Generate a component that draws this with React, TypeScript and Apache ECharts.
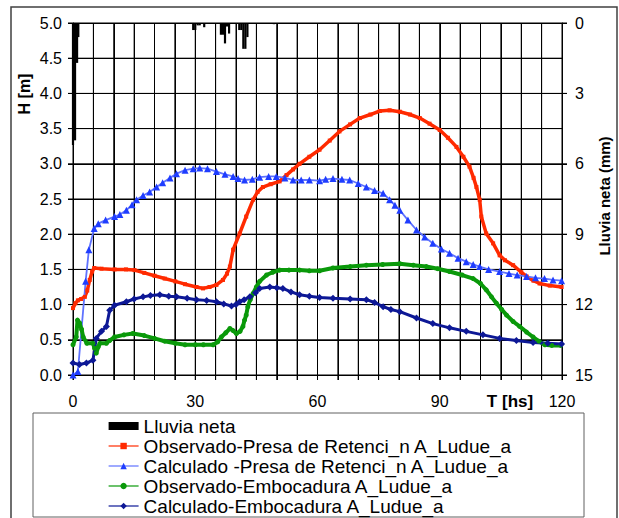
import React, { useEffect, useRef } from "react";
import * as echarts from "echarts";

const FONT = "'Liberation Sans', Arial, sans-serif";

const xTicks = [0, 30, 60, 90, 120];
const xGrid = [0, 5, 10, 15, 20, 25, 30, 35, 40, 45, 50, 55, 60, 65, 70, 75, 80, 85, 90, 95, 100, 105, 110, 115, 120];
const yGrid = [0, 0.5, 1, 1.5, 2, 2.5, 3, 3.5, 4, 4.5, 5];
const rainTicks = [0, 3, 6, 9, 12, 15];
const rainNames = "Lluvia neta";
const seriesNames = [
  "Observado-Presa de Retenci_n A_Ludue_a",
  "Calculado -Presa de Retenci_n A_Ludue_a",
  "Observado-Embocadura A_Ludue_a",
  "Calculado-Embocadura A_Ludue_a",
];

// [T hs, mm]
const rain: [number, number][] = [
  [0.0, 5.2], [0.5, 5.0], [1.0, 1.7], [1.3, 0.6],
  [29.5, 0.3], [30.0, 0.3], [30.6, 0.1], [31.1, 0.1], [32.2, 0.18],
  [36.3, 0.5], [36.8, 0.5], [37.3, 0.87], [37.8, 0.15], [38.3, 0.45],
  [40.8, 0.3], [41.3, 0.3], [41.8, 1.1], [42.3, 1.1], [42.8, 0.6],
  [49.3, 0.05],
];

// [T hs, H m]
const obsPresa: [number, number][] = [
  [0, 0.95], [0.6, 1.02], [1.2, 1.06], [2, 1.08], [2.9, 1.11], [3.5, 1.2], [4.1, 1.35], [4.7, 1.47],
  [5.2, 1.52], [7, 1.51], [10.2, 1.5], [13, 1.5], [15.1, 1.49], [17.5, 1.45], [20, 1.41], [22.5, 1.37],
  [25.1, 1.33], [27.5, 1.29], [30.3, 1.25], [31.9, 1.23], [33.5, 1.25], [35.2, 1.28], [36.8, 1.35],
  [37.8, 1.44], [38.5, 1.54], [39.3, 1.78], [40.9, 2.01], [42.5, 2.25], [44.2, 2.49], [45.3, 2.6],
  [46.6, 2.67], [48.5, 2.71], [50.7, 2.75], [52.4, 2.84], [54, 2.92], [55.6, 3.0], [58, 3.1],
  [60.5, 3.2], [63, 3.33], [65.4, 3.46], [68, 3.56], [70.4, 3.65], [73, 3.7], [75.3, 3.75],
  [77.7, 3.76], [80.2, 3.74], [82.7, 3.7], [85.1, 3.65], [87.5, 3.57], [90, 3.48], [92, 3.37],
  [94.1, 3.24], [95.8, 3.1], [97.3, 2.96], [98.3, 2.8], [99, 2.67], [99.8, 2.49], [100.2, 2.25],
  [101.4, 2.01], [103.1, 1.87], [104.7, 1.7], [106, 1.63], [108, 1.56], [110, 1.46], [111.3, 1.4],
  [113, 1.34], [114.5, 1.3], [117, 1.27], [119.9, 1.25],
];

const calcPresa: [number, number][] = [
  [0, 0], [1.2, 0.05], [3.1, 1.33], [3.9, 1.78], [5.2, 2.08], [6.2, 2.15], [8, 2.2], [10.2, 2.25],
  [11.5, 2.28], [13.1, 2.34], [14.5, 2.42], [15.6, 2.49], [17.2, 2.55], [18.8, 2.6], [20.5, 2.67],
  [22, 2.73], [23.8, 2.8], [25.4, 2.86], [27.5, 2.91], [29.5, 2.93], [31.1, 2.94], [33, 2.93],
  [35.2, 2.89], [37.3, 2.85], [39.3, 2.82], [40.5, 2.79], [42.1, 2.77], [44, 2.78], [45.8, 2.81],
  [48, 2.82], [49.9, 2.82], [52, 2.8], [54, 2.77], [56, 2.77], [58, 2.77], [60.5, 2.76], [62, 2.78],
  [63.8, 2.79], [66, 2.78], [67.9, 2.77], [70, 2.72], [72, 2.67], [74, 2.62], [76.1, 2.58],
  [77.7, 2.49], [79, 2.41], [80.2, 2.34], [82.2, 2.2], [84.3, 2.06], [86.3, 1.96], [88.3, 1.87],
  [90.4, 1.79], [92.4, 1.73], [94.5, 1.66], [96.5, 1.61], [98.2, 1.57], [99.8, 1.54], [102, 1.5],
  [104.7, 1.47], [107, 1.44], [109, 1.42], [111.3, 1.4], [113.5, 1.38], [115.7, 1.37], [117.8, 1.35],
  [119.9, 1.34],
];

const obsEmb: [number, number][] = [
  [0, 0.43], [0.8, 0.54], [1.1, 0.78], [1.6, 0.74], [2.1, 0.65], [2.5, 0.54], [3.4, 0.45], [4.9, 0.45],
  [5.3, 0.38], [5.7, 0.31], [6.2, 0.4], [6.6, 0.45], [8.2, 0.45], [9, 0.49], [10.2, 0.54], [12.5, 0.57],
  [14.7, 0.59], [17.5, 0.56], [20, 0.52], [22.5, 0.48], [25.1, 0.45], [27.5, 0.43], [30, 0.43],
  [32, 0.43], [34.4, 0.43], [35.5, 0.47], [36.4, 0.54], [37.5, 0.6], [38.5, 0.66], [39.3, 0.63],
  [40.1, 0.59], [41, 0.62], [41.7, 0.69], [42.1, 0.78], [42.5, 0.85], [42.9, 0.97], [43.5, 1.07],
  [44.2, 1.16], [45, 1.25], [45.8, 1.33], [47.5, 1.42], [49, 1.46], [50.7, 1.49], [53, 1.49],
  [55.6, 1.49], [58, 1.48], [60.5, 1.48], [63.8, 1.52], [68, 1.54], [72, 1.56], [76, 1.57],
  [80.2, 1.58], [83.5, 1.56], [86.7, 1.54], [89.5, 1.51], [92.4, 1.47], [95.5, 1.42], [98.2, 1.37],
  [100, 1.3], [101.4, 1.21], [102.7, 1.11], [103.9, 1.02], [105.2, 0.93], [106.4, 0.85], [108, 0.76],
  [109.6, 0.69], [111.3, 0.61], [112.9, 0.54], [114.3, 0.48], [115.8, 0.43], [117.5, 0.42],
  [119.7, 0.42],
];

const calcEmb: [number, number][] = [
  [0, 0.17], [1.6, 0.15], [3.3, 0.17], [4.9, 0.21], [5.7, 0.52], [7, 0.62], [8.2, 0.69], [9, 0.92],
  [10.2, 0.99], [13.1, 1.04], [15, 1.08], [17.2, 1.11], [19, 1.13], [21.3, 1.14], [23.5, 1.12],
  [25.4, 1.11], [28, 1.09], [30.3, 1.07], [32.8, 1.06], [35.2, 1.04], [37, 1.01], [38.9, 0.98],
  [40, 1.0], [40.9, 1.04], [42, 1.07], [43.4, 1.11], [44.8, 1.17], [45.8, 1.23], [48.3, 1.25],
  [50, 1.24], [51.5, 1.23], [53.5, 1.18], [55.6, 1.14], [58, 1.12], [60.5, 1.1], [63.8, 1.09],
  [68, 1.08], [72, 1.07], [74, 1.03], [76.1, 0.97], [78, 0.93], [80.2, 0.9], [84.3, 0.81],
  [88.3, 0.73], [92.4, 0.67], [96.5, 0.62], [100.6, 0.57], [104.7, 0.52], [108.8, 0.49],
  [112.9, 0.46], [116.5, 0.45], [119.9, 0.44],
];

const TICK = 5;

export default function App() {
  const ref = useRef<HTMLDivElement>(null);
  useEffect(() => {
    document.body.style.margin = "0";
    const chart = echarts.init(ref.current!, null, { renderer: "svg" });
    const axisLabelStyle = { color: "#000", fontSize: 16, fontFamily: FONT };
    const gridStyle = { stroke: "#000", lineWidth: 1, fill: null };
    chart.setOption({
      animation: false,
      textStyle: { fontFamily: FONT },
      grid: { left: 73, right: 57, top: 23, bottom: 143 },
      legend: {
        orient: "vertical",
        left: 108,
        top: 416,
        padding: 0,
        itemWidth: 30,
        itemHeight: 8,
        itemGap: 0,
        lineStyle: { width: 1.2 },
        textStyle: { color: "#000", fontSize: 19, lineHeight: 20, fontFamily: FONT },
        data: [
          { name: rainNames, icon: "rect" },
          ...seriesNames.map((n) => ({ name: n })),
        ],
      },
      xAxis: {
        type: "value",
        min: 0,
        max: 120,
        interval: 5,
        axisLine: { show: true, lineStyle: { color: "#000", width: 1 } },
        axisTick: { show: true, length: TICK, lineStyle: { color: "#000" } },
        axisLabel: {
          ...axisLabelStyle,
          margin: 18,
          formatter: (v: number) => (xTicks.includes(v) ? String(v) : ""),
        },
        splitLine: { show: true, lineStyle: { color: "#000", width: 1 } },
      },
      yAxis: [
        {
          type: "value",
          min: 0,
          max: 5,
          interval: 0.5,
          axisLine: { show: true, lineStyle: { color: "#000", width: 1 } },
          axisTick: { show: true, length: TICK, lineStyle: { color: "#000" } },
          axisLabel: { ...axisLabelStyle, margin: 11, formatter: (v: number) => v.toFixed(1) },
          splitLine: { show: true, lineStyle: { color: "#000", width: 1 } },
        },
        {
          type: "value",
          position: "right",
          inverse: true,
          min: 0,
          max: 15,
          interval: 3,
          axisLine: { show: true, lineStyle: { color: "#000", width: 1 } },
          axisTick: { show: true, length: TICK, lineStyle: { color: "#000" } },
          axisLabel: { ...axisLabelStyle, margin: 13 },
          splitLine: { show: false },
        },
      ],
      series: [
        {
          name: "__vgrid",
          type: "custom",
          xAxisIndex: 0,
          yAxisIndex: 0,
          z: 1,
          silent: true,
          clip: false,
          encode: { x: 0, y: 1 },
          data: xGrid.map((v) => [v, 0]),
          renderItem: (_p: any, api: any) => {
            const v = api.value(0);
            const a = api.coord([v, 5]);
            const b = api.coord([v, 0]);
            return {
              type: "line",
              shape: { x1: a[0], y1: a[1], x2: b[0], y2: b[1] + TICK },
              style: gridStyle,
            };
          },
        },
        {
          name: "__hgrid",
          type: "custom",
          xAxisIndex: 0,
          yAxisIndex: 0,
          z: 1,
          silent: true,
          clip: false,
          encode: { x: 0, y: 1 },
          data: yGrid.map((v) => [0, v]),
          renderItem: (_p: any, api: any) => {
            const v = api.value(1);
            const a = api.coord([0, v]);
            const b = api.coord([120, v]);
            return {
              type: "line",
              shape: { x1: a[0] - TICK, y1: a[1], x2: b[0], y2: b[1] },
              style: gridStyle,
            };
          },
        },
        {
          name: "__rticks",
          type: "custom",
          xAxisIndex: 0,
          yAxisIndex: 1,
          z: 1,
          silent: true,
          clip: false,
          encode: { x: 0, y: 1 },
          data: rainTicks.map((v) => [120, v]),
          renderItem: (_p: any, api: any) => {
            const p = api.coord([120, api.value(1)]);
            return {
              type: "line",
              shape: { x1: p[0], y1: p[1], x2: p[0] + TICK, y2: p[1] },
              style: gridStyle,
            };
          },
        },
        {
          name: rainNames,
          type: "bar",
          xAxisIndex: 0,
          yAxisIndex: 1,
          barWidth: 2.2,
          itemStyle: { color: "#000" },
          data: rain,
        },
        {
          name: seriesNames[0],
          type: "line",
          yAxisIndex: 0,
          data: obsPresa,
          symbol: "rect",
          symbolSize: 4,
          showSymbol: true,
          lineStyle: { color: "#ff2a00", width: 3.5 },
          itemStyle: { color: "#ff2a00" },
        },
        {
          name: seriesNames[1],
          type: "line",
          yAxisIndex: 0,
          data: calcPresa,
          symbol: "triangle",
          symbolSize: 7,
          lineStyle: { color: "#5f72ff", width: 1.8 },
          itemStyle: { color: "#1f3dff" },
        },
        {
          name: seriesNames[2],
          type: "line",
          yAxisIndex: 0,
          data: obsEmb,
          symbol: "circle",
          symbolSize: 5,
          lineStyle: { color: "#0a990a", width: 4 },
          itemStyle: { color: "#0a990a" },
        },
        {
          name: seriesNames[3],
          type: "line",
          yAxisIndex: 0,
          data: calcEmb,
          symbol: "diamond",
          symbolSize: 7,
          lineStyle: { color: "#0d1896", width: 3 },
          itemStyle: { color: "#0d1896" },
        },
      ],
      graphic: [
        {
          type: "rect",
          silent: true,
          shape: { x: 11, y: 7, width: 606, height: 530 },
          style: { fill: "transparent", stroke: "#404040", lineWidth: 1.5 },
        },
        {
          type: "rect",
          silent: true,
          shape: { x: 33, y: 413, width: 551, height: 104 },
          style: { fill: "transparent", stroke: "#606060", lineWidth: 1 },
        },
        {
          type: "text",
          x: 24.5,
          y: 94,
          rotation: Math.PI / 2,
          style: {
            text: "H [m]",
            font: `bold 16px ${FONT}`,
            fill: "#000",
            align: "center",
            verticalAlign: "middle",
          },
        },
        {
          type: "text",
          x: 604,
          y: 196,
          rotation: Math.PI / 2,
          style: {
            text: "Lluvia neta (mm)",
            font: `bold 15px ${FONT}`,
            fill: "#000",
            align: "center",
            verticalAlign: "middle",
          },
        },
        {
          type: "text",
          x: 510,
          y: 401,
          style: {
            text: "T [hs]",
            font: `bold 17px ${FONT}`,
            fill: "#000",
            align: "center",
            verticalAlign: "middle",
          },
        },
      ],
    });
    return () => chart.dispose();
  }, []);
  return <div ref={ref} style={{ width: 619, height: 518 }} />;
}
